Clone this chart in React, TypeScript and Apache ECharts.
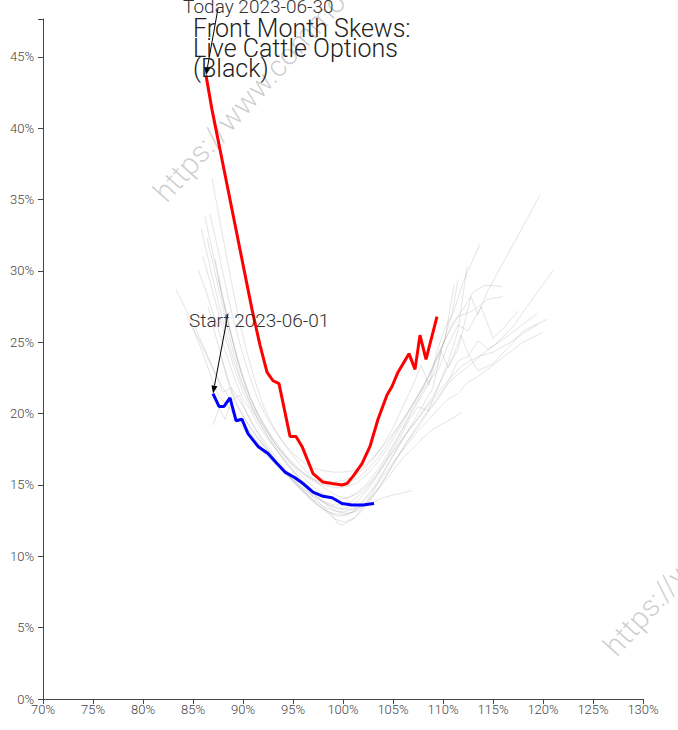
import React, { useEffect, useRef } from 'react';
import * as echarts from 'echarts';

// ---- Texts ----
const titleLines = ['Front Month Skews:', 'Live Cattle Options', '(Black)'];
const todayLabel = 'Today 2023-06-30';
const startLabel = 'Start 2023-06-01';
const watermarkText = 'https://www.commodityvol.com';

// ---- Axis ticks (percent) ----
const xMin = 70;
const xMax = 130;
const xStep = 5;
const yMin = 0;
const yMax = 47.65;
const yStep = 5;

// ---- Series: [moneyness %, implied vol %] ----
const todaySkew: number[][] = [
  [86.3, 43.7], [86.9, 41.3], [87.7, 38.5], [88.5, 35.7], [89.3, 32.9], [90.1, 30.1],
  [90.9, 27.3], [91.7, 24.8], [92.4, 22.9], [93.0, 22.3], [93.6, 22.1], [94.7, 18.4],
  [95.3, 18.4], [95.9, 17.7], [97.0, 15.8], [98.0, 15.2], [98.9, 15.1], [99.9, 15.0],
  [100.4, 15.1], [101.0, 15.6], [101.9, 16.5], [102.7, 17.7], [103.5, 19.6], [104.4, 21.3],
  [104.9, 21.9], [105.5, 22.9], [106.6, 24.2], [107.2, 23.1], [107.7, 25.5], [108.3, 23.8],
  [109.4, 26.8],
];

const startSkew: number[][] = [
  [87.0, 21.4], [87.6, 20.5], [88.1, 20.5], [88.7, 21.1], [89.3, 19.5], [89.9, 19.6],
  [90.5, 18.6], [91.5, 17.7], [92.5, 17.2], [93.4, 16.5], [94.2, 15.9], [95.2, 15.5],
  [96.0, 15.1], [97.0, 14.5], [98.0, 14.2], [98.9, 14.1], [99.9, 13.7], [100.9, 13.6],
  [102.0, 13.6], [103.1, 13.7],
];

const day02: number[][] = [
  [84.3, 27.0], [85.2, 25.6], [86.0, 24.2], [86.8, 22.6], [87.6, 21.2], [88.4, 20.6],
  [89.2, 19.8], [90.0, 19.0], [91.0, 18.1], [92.0, 17.3], [93.0, 16.6], [94.0, 15.9],
  [95.0, 15.3], [96.0, 14.7], [97.0, 14.2], [98.0, 13.8], [99.0, 13.5], [100.0, 13.3],
  [101.0, 13.3], [102.0, 13.5], [103.0, 13.8], [104.0, 14.1], [105.0, 14.3], [106.9, 14.6],
];
const day03: number[][] = [
  [87.0, 19.2], [87.6, 20.4], [88.2, 19.6], [88.8, 20.8], [89.4, 19.8], [90.2, 19.2],
  [91.0, 18.4], [92.0, 17.5], [93.0, 16.7], [94.0, 16.0], [95.0, 15.2], [96.0, 14.5],
  [97.0, 13.8], [98.0, 13.3], [99.0, 13.0], [100.0, 12.9], [101.0, 13.1], [102.0, 13.6],
  [103.0, 14.3], [104.0, 15.1], [105.0, 16.0], [106.0, 16.9], [107.0, 17.6], [108.0, 18.3],
  [109.0, 18.9], [110.0, 19.3], [111.0, 19.7], [111.9, 20.1],
];
const day04: number[][] = [
  [83.3, 28.7], [84.3, 27.3], [85.3, 25.9], [86.3, 24.3], [87.3, 22.7], [88.0, 21.5],
  [88.8, 21.8], [89.5, 20.5], [90.5, 19.3], [91.5, 18.3], [92.5, 17.4], [93.5, 16.5],
  [94.5, 15.7], [95.5, 14.9], [96.5, 14.2], [97.5, 13.6], [98.5, 13.1], [99.5, 12.8],
  [100.5, 12.9], [101.5, 13.4], [102.5, 14.2], [103.5, 15.1], [104.5, 16.1], [105.5, 17.0],
  [106.5, 17.9], [107.5, 18.8], [108.5, 19.5], [109.5, 20.3], [110.5, 21.0], [111.5, 21.4],
  [112.5, 22.2], [113.5, 22.6], [115.0, 23.4], [116.5, 24.2], [118.0, 25.0], [120.0, 25.7],
];
const day05: number[][] = [
  [85.5, 30.1], [86.3, 28.6], [87.0, 27.0], [87.8, 25.3], [88.5, 23.8], [89.3, 22.2],
  [90.0, 21.0], [90.8, 20.2], [91.5, 19.2], [92.5, 18.2], [93.5, 17.3], [94.5, 16.4],
  [95.5, 15.6], [96.5, 14.8], [97.5, 14.1], [98.5, 13.5], [99.5, 13.1], [100.5, 13.0],
  [101.5, 13.2], [102.5, 13.8], [103.5, 14.7], [104.5, 15.8], [105.5, 17.0], [106.5, 18.1],
  [107.5, 19.0], [108.5, 20.1], [109.5, 21.0], [110.5, 22.2], [111.5, 23.7], [112.5, 24.0],
  [113.5, 25.1], [114.5, 24.5], [116.0, 25.2], [117.5, 26.0], [119.4, 27.0],
];
const day06: number[][] = [
  [86.4, 32.3], [87.0, 30.5], [87.6, 28.6], [88.3, 26.5], [89.0, 24.4], [89.7, 22.6],
  [90.4, 21.3], [91.2, 20.0], [92.0, 18.9], [93.0, 17.8], [94.0, 16.8], [95.0, 15.9],
  [96.0, 15.0], [97.0, 14.2], [98.0, 13.5], [99.0, 12.8], [99.5, 12.3], [100.0, 12.2],
  [101.0, 12.6], [102.0, 13.4], [103.0, 14.5], [104.0, 15.8], [105.0, 17.1], [106.0, 18.3],
  [107.0, 19.2], [108.0, 20.2], [109.0, 21.2], [110.0, 22.6], [111.0, 24.0], [111.8, 25.5],
  [112.5, 24.2], [113.5, 23.0], [115.0, 23.5], [116.5, 24.6], [118.0, 25.8], [120.4, 26.6],
];
const day07: number[][] = [
  [86.9, 36.5], [87.5, 34.2], [88.2, 31.6], [88.9, 29.0], [89.6, 26.6], [90.4, 24.3],
  [91.2, 22.3], [92.0, 20.6], [92.8, 19.4], [93.6, 18.4], [94.5, 17.5], [95.5, 16.6],
  [96.5, 15.8], [97.5, 15.1], [98.5, 14.6], [99.5, 14.2], [100.5, 14.1], [101.5, 14.4],
  [102.5, 15.0], [103.5, 15.9], [104.5, 17.0], [105.5, 18.3], [106.5, 19.6], [107.5, 20.8],
  [108.5, 22.0], [109.5, 23.5], [110.3, 25.6], [110.9, 27.0], [111.5, 29.4],
];
const day08: number[][] = [
  [86.0, 31.0], [86.8, 29.0], [87.6, 26.9], [88.4, 24.9], [89.2, 23.0], [90.0, 21.5],
  [90.8, 20.4], [91.6, 19.4], [92.5, 18.4], [93.5, 17.4], [94.5, 16.5], [95.5, 15.6],
  [96.5, 14.8], [97.5, 14.1], [98.5, 13.6], [99.5, 13.3], [100.5, 13.4], [101.5, 13.9],
  [102.5, 14.7], [103.5, 15.7], [104.5, 16.9], [105.5, 18.0], [106.5, 19.4], [107.5, 20.5],
  [108.5, 20.2], [109.5, 21.8], [110.5, 23.6], [111.5, 25.8], [112.4, 30.3],
];
const day09: number[][] = [
  [87.2, 30.8], [87.8, 28.8], [88.5, 26.6], [89.2, 24.5], [90.0, 22.6], [90.8, 21.0],
  [91.6, 19.8], [92.5, 18.7], [93.5, 17.6], [94.5, 16.8], [95.5, 16.1], [96.5, 15.5],
  [97.5, 15.1], [98.5, 14.9], [99.5, 14.8], [100.5, 14.9], [101.5, 15.2], [102.5, 15.8],
  [103.5, 16.6], [104.5, 17.6], [105.5, 18.8], [106.5, 20.0], [107.5, 21.2], [108.5, 22.5],
  [109.5, 24.0], [110.2, 25.2], [111.1, 29.0],
];
const day10: number[][] = [
  [86.7, 34.0], [87.4, 31.8], [88.1, 29.5], [88.8, 27.3], [89.6, 25.1], [90.4, 23.2],
  [91.2, 21.5], [92.0, 20.2], [93.0, 19.0], [94.0, 18.0], [95.0, 17.2], [96.0, 16.6],
  [97.0, 16.2], [98.0, 16.0], [99.0, 15.9], [100.0, 15.9], [101.0, 16.0], [102.0, 16.3],
  [103.0, 16.9], [104.0, 17.7], [105.0, 18.6], [106.0, 19.6], [107.0, 20.7], [108.0, 21.8],
  [109.0, 23.2], [110.0, 24.8], [111.0, 26.4], [112.0, 27.3], [113.0, 28.5], [114.2, 29.0],
  [115.9, 28.9],
];
const day11: number[][] = [
  [87.5, 29.5], [88.2, 27.3], [89.0, 25.0], [89.8, 22.9], [90.6, 21.3], [91.5, 20.0],
  [92.5, 18.8], [93.5, 17.8], [94.5, 16.9], [95.5, 16.2], [96.5, 15.6], [97.5, 15.2],
  [98.5, 15.0], [99.5, 15.0], [100.5, 15.1], [101.5, 15.5], [102.5, 16.1], [103.5, 16.9],
  [104.5, 17.9], [105.5, 19.0], [106.5, 20.1], [107.5, 21.3], [108.5, 22.6], [109.5, 24.2],
  [110.5, 25.6], [111.5, 26.8], [113.0, 27.2], [114.4, 28.0], [116.0, 28.2],
];
const day12: number[][] = [
  [85.0, 26.0], [86.0, 24.6], [87.0, 23.1], [88.0, 21.8], [88.8, 20.9], [89.6, 21.3],
  [90.4, 20.0], [91.2, 19.0], [92.2, 18.0], [93.2, 17.0], [94.2, 16.1], [95.2, 15.3],
  [96.2, 14.5], [97.2, 13.8], [98.2, 13.2], [99.2, 12.6], [100.2, 12.4], [101.2, 12.7],
  [102.2, 13.4], [103.2, 14.4], [104.2, 15.5], [105.2, 16.7], [106.2, 17.8], [107.2, 18.9],
  [108.2, 19.9], [109.2, 20.9], [110.2, 21.8], [111.2, 22.6], [112.5, 23.3], [114.0, 24.2],
  [115.5, 25.0], [117.0, 26.1], [118.5, 27.6], [121.0, 30.0],
];
const day13: number[][] = [
  [86.5, 27.5], [87.2, 25.6], [88.0, 23.6], [88.7, 22.0], [89.4, 21.2], [90.2, 20.3],
  [91.0, 19.2], [92.0, 18.0], [93.0, 17.0], [94.0, 16.1], [95.0, 15.3], [96.0, 14.6],
  [97.0, 14.0], [98.0, 13.5], [99.0, 13.2], [100.0, 13.1], [101.0, 13.3], [102.0, 13.9],
  [103.0, 14.8], [104.0, 15.9], [105.0, 17.0], [106.0, 18.2], [107.0, 19.4], [108.0, 20.6],
  [109.0, 21.8], [109.8, 24.4], [110.5, 23.2], [111.5, 24.5], [112.8, 28.2], [113.5, 26.9],
  [114.4, 28.5], [119.7, 35.3],
];
const day14: number[][] = [
  [85.8, 33.0], [86.6, 30.6], [87.4, 28.2], [88.2, 25.9], [89.0, 23.9], [89.8, 22.2],
  [90.6, 20.9], [91.5, 19.7], [92.5, 18.6], [93.5, 17.6], [94.5, 16.7], [95.5, 15.9],
  [96.5, 15.2], [97.5, 14.6], [98.5, 14.2], [99.5, 14.0], [100.5, 14.1], [101.5, 14.5],
  [102.5, 15.2], [103.5, 16.1], [104.5, 17.2], [105.5, 18.4], [106.5, 19.7], [107.5, 21.0],
  [108.5, 22.2], [109.5, 23.0], [110.5, 24.8], [111.5, 26.2], [112.5, 25.8], [113.8, 27.5],
  [115.0, 25.3], [116.2, 26.1], [117.5, 27.2],
];
const day15: number[][] = [
  [87.8, 24.0], [88.5, 22.2], [89.2, 20.8], [90.0, 19.8], [91.0, 18.7], [92.0, 17.8],
  [93.0, 16.9], [94.0, 16.1], [95.0, 15.4], [96.0, 14.8], [97.0, 14.3], [98.0, 13.9],
  [99.0, 13.6], [100.0, 13.6], [101.0, 13.9], [102.0, 14.5], [103.0, 15.3], [104.0, 16.3],
  [105.0, 17.3], [106.0, 18.3], [107.0, 19.2], [108.0, 20.1], [109.0, 21.0], [110.0, 21.9],
  [111.0, 22.7], [112.0, 23.4], [113.5, 24.0], [115.0, 24.3], [116.5, 24.9], [118.0, 25.6],
  [119.6, 26.3],
];
const day16: number[][] = [
  [86.2, 33.8], [87.0, 31.2], [87.8, 28.6], [88.6, 26.1], [89.4, 23.8], [90.2, 22.0],
  [91.0, 20.6], [92.0, 19.2], [93.0, 18.1], [94.0, 17.2], [95.0, 16.4], [96.0, 15.8],
  [97.0, 15.4], [98.0, 15.2], [99.0, 15.2], [100.0, 15.3], [101.0, 15.6], [102.0, 16.1],
  [103.0, 16.8], [104.0, 17.8], [105.0, 19.0], [106.0, 20.5], [107.0, 22.0], [107.8, 23.4],
  [108.6, 22.0], [109.4, 24.4], [110.2, 26.0], [111.0, 27.0], [112.0, 29.2], [113.7, 31.9],
];

const historySkews: number[][][] = [
  day02, day03, day04, day05, day06, day07, day08, day09, day10, day11, day12, day13,
  day14, day15, day16,
];

export default function App() {
  const ref = useRef<HTMLDivElement>(null);

  useEffect(() => {
    if (!ref.current) return;
    const chart = echarts.init(ref.current, undefined, { renderer: 'svg' });

    const grey = historySkews.map((d, i) => ({
      name: 'h' + i,
      type: 'line',
      data: d,
      showSymbol: false,
      symbol: 'none',
      lineStyle: { color: 'rgba(120,120,120,0.2)', width: 1 },
      z: 2,
    }));

    const option: any = {
      animation: false,
      backgroundColor: '#ffffff',
      grid: { left: 43, right: 35, top: 19, bottom: 31, containLabel: false },
      xAxis: {
        type: 'value',
        min: xMin,
        max: xMax,
        interval: xStep,
        splitLine: { show: false },
        axisLine: { show: true, lineStyle: { color: '#444', width: 1 } },
        axisTick: { show: true, length: 5, lineStyle: { color: '#444' } },
        axisLabel: {
          formatter: (v: number) => `${v}%`,
          color: '#444',
          fontSize: 13,
          fontWeight: 300,
          fontFamily: 'Roboto',
          margin: 4,
        },
      },
      yAxis: {
        type: 'value',
        min: yMin,
        max: yMax,
        interval: yStep,
        splitLine: { show: false },
        axisLine: { show: true, lineStyle: { color: '#444', width: 1 } },
        axisTick: { show: true, length: 5, lineStyle: { color: '#444' } },
        axisLabel: {
          formatter: (v: number) => (Math.abs(v % yStep) < 1e-6 ? `${v}%` : ''),
          color: '#444',
          fontSize: 13,
          fontWeight: 300,
          fontFamily: 'Roboto',
          margin: 9,
        },
      },
      series: [
        ...grey,
        {
          name: startLabel,
          type: 'line',
          data: startSkew,
          showSymbol: false,
          symbol: 'none',
          lineStyle: { color: '#0000ff', width: 3 },
          z: 3,
        },
        {
          name: todayLabel,
          type: 'line',
          data: todaySkew,
          showSymbol: false,
          symbol: 'none',
          lineStyle: { color: '#ff0000', width: 3 },
          z: 4,
        },
      ],
    };
    chart.setOption(option);

    const annotate = (pt: number[], label: string, dx: number, dy: number, textDx: number, textDy: number) => {
      const head = chart.convertToPixel({ gridIndex: 0 }, pt) as number[];
      const tail = [head[0] + dx, head[1] + dy];
      const len = Math.hypot(dx, dy);
      const ux = -dx / len;
      const uy = -dy / len;
      const bx = head[0] - ux * 8;
      const by = head[1] - uy * 8;
      const nx = -uy;
      const ny = ux;
      return [
        {
          type: 'line',
          shape: { x1: tail[0], y1: tail[1], x2: bx, y2: by },
          style: { stroke: '#000', lineWidth: 1 },
          z: 10,
        },
        {
          type: 'polygon',
          shape: {
            points: [
              [head[0], head[1]],
              [bx + nx * 3, by + ny * 3],
              [bx - nx * 3, by - ny * 3],
            ],
          },
          style: { fill: '#000' },
          z: 10,
        },
        {
          type: 'text',
          x: head[0] + textDx,
          y: head[1] + textDy,
          style: {
            text: label,
            font: '300 19px Roboto',
            fill: '#333',
            textAlign: 'left',
            textVerticalAlign: 'middle',
          },
          z: 11,
        },
      ];
    };

    const deg = (48 * Math.PI) / 180;
    const wmStyle = {
      text: watermarkText,
      font: '300 30px Roboto',
      fill: 'rgba(0,0,0,0.2)',
      textAlign: 'left',
      textVerticalAlign: 'middle',
    };
    chart.setOption({
      graphic: [
        { type: 'text', x: 159, y: 197, rotation: deg, style: wmStyle, z: 0 },
        { type: 'text', x: 609, y: 651, rotation: deg, style: wmStyle, z: 0 },
        {
          type: 'text',
          x: 193,
          y: 18,
          style: {
            text: titleLines.join('\n'),
            font: '300 25px Roboto',
            lineHeight: 20,
            fill: '#222',
            textAlign: 'left',
            textVerticalAlign: 'top',
          },
          z: 12,
        },
        ...annotate(todaySkew[0], todayLabel, 12, -67, -23, -69),
        ...annotate(startSkew[0], startLabel, 15, -80, -24, -73),
      ],
    });

    return () => chart.dispose();
  }, []);

  return (
    <div
      ref={ref}
      style={{ position: 'fixed', left: 0, top: 0, width: 678, height: 730, background: '#fff' }}
    />
  );
}
